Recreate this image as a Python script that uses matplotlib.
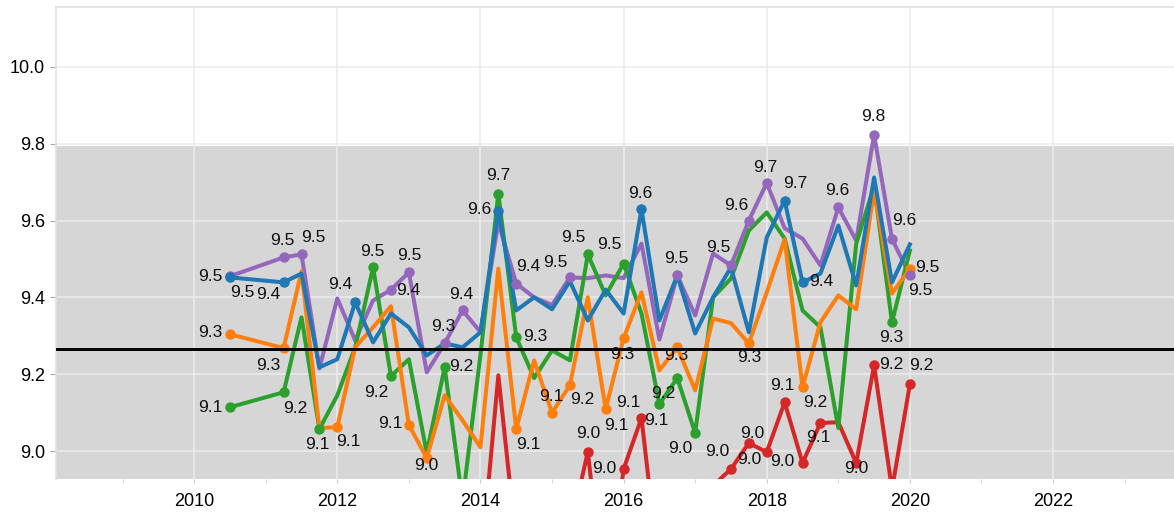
import matplotlib.pyplot as plt
from matplotlib.ticker import MultipleLocator, FormatStrFormatter

plt.rcParams['font.family'] = ['Liberation Sans', 'DejaVu Sans']

# quarterly dates (decimal years)
dates = [2010.5, 2011.25, 2011.5, 2011.75, 2012.0, 2012.25, 2012.5, 2012.75,
         2013.0, 2013.25, 2013.5, 2013.75, 2014.0, 2014.25, 2014.5, 2014.75,
         2015.0, 2015.25, 2015.5, 2015.75, 2016.0, 2016.25, 2016.5, 2016.75,
         2017.0, 2017.25, 2017.5, 2017.75, 2018.0, 2018.25, 2018.5, 2018.75,
         2019.0, 2019.25, 2019.5, 2019.75, 2020.0]

purple = [9.455, 9.504, 9.512, 9.215, 9.397, 9.288, 9.392, 9.42, 9.465, 9.205,
          9.28, 9.366, 9.31, 9.595, 9.436, 9.40, 9.38, 9.452, 9.45, 9.457,
          9.45, 9.54, 9.29, 9.457, 9.353, 9.514, 9.483, 9.60, 9.698, 9.58,
          9.553, 9.483, 9.634, 9.548, 9.823, 9.552, 9.457]
blue = [9.452, 9.439, 9.462, 9.218, 9.239, 9.387, 9.283, 9.358, 9.322, 9.249,
        9.28, 9.27, 9.309, 9.626, 9.366, 9.40, 9.369, 9.442, 9.34, 9.42,
        9.358, 9.629, 9.34, 9.457, 9.306, 9.40, 9.478, 9.309, 9.556, 9.652,
        9.439, 9.462, 9.587, 9.431, 9.712, 9.439, 9.538]
orange = [9.304, 9.268, 9.468, 9.06, 9.062, 9.27, 9.322, 9.377, 9.068, 8.982,
          9.145, 9.08, 9.01, 9.475, 9.057, 9.236, 9.10, 9.171, 9.40, 9.109,
          9.294, 9.413, 9.21, 9.27, 9.158, 9.345, 9.333, 9.28, 9.413, 9.551,
          9.166, 9.335, 9.405, 9.369, 9.678, 9.41, 9.475]
green = [9.114, 9.153, 9.348, 9.057, 9.145, 9.27, 9.478, 9.195, 9.239, 8.995,
         9.218, 8.87, 9.25, 9.67, 9.296, 9.19, 9.262, 9.236, 9.512, 9.405,
         9.488, 9.358, 9.122, 9.19, 9.047, 9.40, 9.449, 9.574, 9.621, 9.553,
         9.366, 9.322, 9.06, 9.54, 9.69, 9.335, 9.522]
red = [8.80, 8.76, 8.78, 8.72, 8.74, 8.77, 8.75, 8.80, 8.73, 8.70,
       8.78, 8.74, 8.69, 9.197, 8.76, 8.75, 8.80, 8.79, 8.998, 8.59,
       8.953, 9.086, 8.68, 8.72, 8.80, 8.91, 8.953, 9.021, 8.997, 9.127,
       8.969, 9.073, 9.075, 8.969, 9.223, 8.90, 9.174]

ref_line = 9.265
band = (8.7, 9.793)

series = {
    'purple': (purple, '#9467bd'),
    'red': (red, '#d62728'),
    'green': (green, '#2ca02c'),
    'orange': (orange, '#ff7f0e'),
    'blue': (blue, '#1f77b4'),
}

# labelled points: series, index, label offset in pixels (dx, dy down)
labels = [
    ('purple', 0, -20, 0), ('blue', 0, 12, 15), ('blue', 1, -15, 12),
    ('purple', 1, -1, -17), ('purple', 2, 12, -17), ('orange', 0, -20, -2),
    ('orange', 1, -15, 17), ('green', 0, -20, 0), ('green', 1, 12, 16),
    ('green', 3, -2, 15), ('orange', 4, 11, 14), ('blue', 5, -15, -18),
    ('green', 6, -1, -16), ('green', 7, -15, 16), ('purple', 8, 0, -17),
    ('purple', 7, 17, 1), ('orange', 8, -19, -1), ('orange', 9, -1, 8),
    ('purple', 10, -1, -17), ('purple', 11, -1, -16), ('green', 10, 17, -1),
    ('blue', 13, -19, -1), ('green', 13, 0, -18), ('purple', 14, 12, -17),
    ('purple', 17, -15, -15), ('green', 14, 19, -1), ('orange', 14, 12, 15),
    ('orange', 16, -1, -16), ('orange', 17, 12, 14), ('green', 18, -14, -17),
    ('red', 18, 0, -18), ('green', 20, -14, -19), ('orange', 20, -1, 16),
    ('red', 20, -19, -1), ('orange', 19, 11, 16), ('red', 21, -13, -15),
    ('green', 22, -3, 16), ('blue', 21, -1, -16), ('green', 23, -14, 15),
    ('orange', 23, -1, 8), ('purple', 23, -1, -17), ('green', 24, -15, 16),
    ('purple', 26, -13, -18), ('red', 26, -14, -18), ('purple', 27, -13, -15),
    ('purple', 28, -1, -15), ('orange', 27, 0, 14), ('red', 28, -14, -19),
    ('red', 27, 0, 17), ('blue', 29, 11, -17), ('red', 29, -2, -17),
    ('red', 30, -20, -1), ('blue', 30, 19, -1), ('orange', 30, 13, 15),
    ('red', 31, -2, 15), ('purple', 32, -1, -17), ('red', 33, 0, 6),
    ('purple', 34, -1, -18), ('red', 34, 17, -1), ('green', 35, -1, 15),
    ('purple', 35, 12, -18), ('red', 36, 11, -19), ('orange', 36, 17, -1),
    ('purple', 36, 10, 15),
]

W, H = 1174, 514
fig = plt.figure(figsize=(W / 100, H / 100), dpi=100)
ax = fig.add_axes([56 / W, 35.3 / H, 1 - 56 / W, 471.4 / H])

ax.axhspan(band[0], band[1], color='#d6d6d6', zorder=0.1, lw=0)
ax.set_axisbelow(True)
ax.grid(True, color='#ebebeb', lw=1.1)

for name, (vals, col) in series.items():
    ax.plot(dates, vals, color=col, lw=2.9, zorder=2)

for name, i, dx, dy in labels:
    vals, col = series[name]
    ax.plot(dates[i], vals[i], 'o', color=col, ms=6.5, zorder=3)
    ax.annotate(f'{vals[i]:.1f}', (dates[i], vals[i]), xytext=(dx * 0.72, -dy * 0.72),
                textcoords='offset points', ha='center', va='center',
                fontsize=12.5, color='#111111', zorder=4)

ax.axhline(ref_line, color='black', lw=2.1, zorder=3)

ax.set_xlim(2008.07, 2023.69)
ax.set_ylim(8.928, 10.155)
ax.xaxis.set_major_locator(MultipleLocator(2))
ax.xaxis.set_minor_locator(MultipleLocator(1))
ax.xaxis.set_major_formatter(FormatStrFormatter('%d'))
ax.yaxis.set_major_locator(MultipleLocator(0.2))
ax.yaxis.set_major_formatter(FormatStrFormatter('%.1f'))
ax.tick_params(axis='y', length=4, color='#aaaaaa', labelsize=13, pad=4)
ax.tick_params(axis='x', which='both', length=3, color='#cccccc', labelsize=13, pad=7)

for s in ['bottom', 'right']:
    ax.spines[s].set_visible(False)
for s in ['top', 'left']:
    ax.spines[s].set_color('#e0e0e0')
    ax.spines[s].set_linewidth(1.2)

plt.savefig('out.png', dpi=100)
